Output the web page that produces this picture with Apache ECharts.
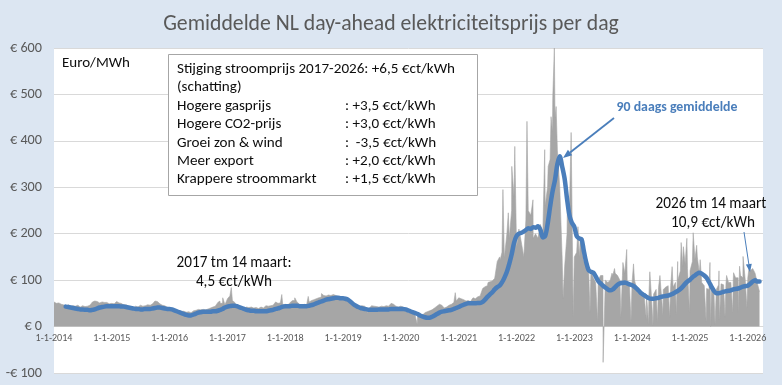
<!DOCTYPE html>
<html><head><meta charset="utf-8">
<script src="https://cdn.jsdelivr.net/npm/echarts@6/dist/echarts.min.js"></script>
<style>html,body{margin:0;padding:0;background:#dce6f2}#c{width:782px;height:385px}</style>
</head><body><div id="c"></div>
<script>
// ---------- DATA ----------
// gray daily-price envelope, two points per month (1st and 16th), EUR/MWh
const price2014 = [53,50,51,48,47,44,47,43,45,44,46,42,45,43,44,46,53,55,54,51,53,52,52,49];
const price2015 = [50,49,54,51,50,47,47,44,43,40,44,42,46,44,45,47,46,49,55,54,49,46,45,42];
const price2016 = [40,36,33,32,34,33,33,31,32,30,34,35,37,36,37,36,38,40,42,44,52,50,50,47];
const price2017 = [60,66,56,52,44,41,42,40,42,41,42,40,41,39,42,40,45,44,45,46,53,50,51,47];
const price2018 = [48,46,52,56,56,53,48,46,48,47,53,56,58,60,62,63,67,66,68,67,69,67,65,63];
const price2019 = [63,60,54,50,45,44,44,43,45,44,40,40,45,44,43,42,44,43,45,44,50,48,44,42];
const price2020 = [44,42,34,30,30,27,24,22,22,24,30,32,34,36,40,44,48,46,40,42,46,48,52,55];
const price2021 = [62,60,58,55,56,54,62,60,64,66,82,86,88,92,98,104,140,150,160,148,200,190,250,280];
const price2022 = [170,210,180,150,230,250,240,190,200,190,220,200,260,300,360,420,450,380,300,150,130,200,250,300];
const price2023 = [150,160,150,170,140,150,130,120,105,95,100,110,110,100,95,100,110,115,110,100,110,115,100,85];
const price2024 = [95,100,80,72,75,72,70,65,72,70,80,84,82,80,85,88,88,85,95,100,120,130,135,125];
const price2025 = [120,140,145,150,115,95,88,82,80,78,76,80,90,92,90,92,95,95,100,105,105,110,105,100];
const price2026 = [105,120,125,115,95,75];

// isolated spikes and dips of single days
const spikeDates = ['2014-12-03','2016-11-14','2016-12-02','2017-01-25','2017-12-10','2018-03-02','2018-05-26','2018-08-18','2018-12-12','2019-11-13','2020-12-10','2021-07-05','2021-09-20','2021-10-07','2021-11-10','2021-12-02','2021-12-21','2022-03-08','2022-04-15','2022-06-28','2022-07-20','2022-08-07','2022-08-18','2022-08-28','2022-09-08','2022-11-18','2022-12-12','2023-01-24','2023-02-08','2023-08-27','2023-09-12','2023-11-04','2023-11-28','2024-01-10','2024-04-22','2024-06-25','2024-09-10','2024-10-15','2024-11-06','2024-11-20','2024-12-12','2025-01-21','2025-02-12','2025-03-06','2025-05-07','2025-07-03','2025-08-20','2025-10-03','2025-11-10','2025-12-02','2026-01-12','2026-02-03'];
const spikeValues = [56,55,62,84,69,62,65,71,69,52,73,95,144,295,245,345,388,442,273,381,345,452,495,600,474,259,418,215,190,115,125,138,166,135,118,110,129,140,181,172,190,202,175,144,138,120,110,116,130,151,135,123];
const dipDates = ['2019-06-02','2020-04-13','2022-10-22','2022-12-25','2023-04-10','2023-05-28','2023-07-02','2023-10-22','2023-12-25','2024-03-31','2024-04-14','2024-05-12','2024-06-09','2024-07-14','2024-08-25','2024-10-06','2024-12-29','2025-04-13','2025-05-11','2025-06-08','2025-07-06','2025-08-10','2025-09-28','2025-11-02','2025-12-26'];
const dipValues = [30,5,60,21,30,10,-77,20,10,15,5,2,10,25,20,25,30,10,0,5,15,20,30,30,40];

// 90-day moving average, two points per month
const avg2014 = [null,null,null,null,null,43,42,41,40,39,38,37,37,36,36,35,36,37,39,41,42,43,44,44];
const avg2015 = [44,44,44,44,43,43,42,41,40,39,38,38,37,37,38,38,38,39,40,41,41,40,39,38];
const avg2016 = [38,37,35,33,31,29,27,25,24,24,26,28,30,31,32,32,32,32,33,33,34,36,38,41];
const avg2017 = [43,44,45,45,44,42,40,38,36,35,34,34,33,33,33,33,33,34,35,36,38,39,41,43];
const avg2018 = [44,44,44,45,45,45,44,44,44,44,45,46,48,50,52,54,56,58,59,60,61,62,62,61];
const avg2019 = [61,60,58,54,50,46,43,41,39,38,37,36,36,36,36,37,37,37,37,37,38,38,38,38];
const avg2020 = [38,38,37,35,33,31,29,27,24,22,20,19,19,21,24,27,30,32,33,34,35,36,38,40];
const avg2021 = [42,45,47,49,50,50,50,50,51,51,53,58,64,69,74,80,85,88,95,105,118,135,155,180];
const avg2022 = [195,200,202,205,208,212,210,214,213,216,208,192,195,220,258,290,316,350,367,345,318,275,240,224];
const avg2023 = [215,195,190,188,165,140,122,118,116,108,98,93,88,84,80,78,80,85,90,93,94,95,93,91];
const avg2024 = [89,86,81,76,71,68,64,61,60,60,61,62,64,65,66,67,69,71,74,77,81,86,92,97];
const avg2025 = [101,106,110,114,116,114,110,105,96,86,77,72,72,73,75,76,77,78,80,81,82,84,86,87];
const avg2026 = [88,92,97,100,97,97];

const years = [2014,2015,2016,2017,2018,2019,2020,2021,2022,2023,2024,2025,2026];
const priceByYear = [price2014,price2015,price2016,price2017,price2018,price2019,price2020,price2021,price2022,price2023,price2024,price2025,price2026];
const avgByYear = [avg2014,avg2015,avg2016,avg2017,avg2018,avg2019,avg2020,avg2021,avg2022,avg2023,avg2024,avg2025,avg2026];
const yTicks = [-100,0,100,200,300,400,500,600];
const xLabelPrefix = '1-1-';

// ---------- BUILD ----------
const DAY = 86400000, T0 = Date.UTC(2014,0,1), YEAR = 365.25;
function dayIdx(y,m,d){ return (Date.UTC(y,m-1,d)-T0)/DAY; }
function parseDay(s){ const p=s.split('-').map(Number); return dayIdx(p[0],p[1],p[2]); }
function semiMonthly(arrs){
  const out=[];
  arrs.forEach((arr,k)=>arr.forEach((v,i)=>{ if(v!==null) out.push([dayIdx(years[k],Math.floor(i/2)+1,i%2?16:1),v]); }));
  return out;
}
const grayPts = semiMonthly(priceByYear)
  .concat(spikeDates.map((d,i)=>[parseDay(d),spikeValues[i]]))
  .concat(dipDates.map((d,i)=>[parseDay(d),dipValues[i]]))
  .sort((a,b)=>a[0]-b[0]);
const avgPts = semiMonthly(avgByYear);

const FONT = "Carlito, Calibri, Lato, 'Liberation Sans', sans-serif";
const ctx = document.createElement('canvas').getContext('2d');
function fit(text, target, weight){ ctx.font=(weight||'normal')+' 100px '+FONT; return 100*target/ctx.measureText(text).width; }

const titleSize = fit('Gemiddelde NL day-ahead elektriciteitsprijs per dag',456);
const boxSize = fit('Stijging stroomprijs 2017-2026: +6,5 €ct/kWh',278);
const xLabSize = fit('1-1-2014',37);
const yLabSize = fit('€ 500',32);
const annSize = fit('2017 tm 14 maart:',115);
const blueSize = fit('90 daags gemiddelde',121,'bold');
const euroSize = fit('Euro/MWh',68);

function txt(t,x,y,size,opt){
  opt=opt||{};
  return {type:'text', z:20, style:{text:t, x:x, y:y, font:(opt.weight||'normal')+' '+size.toFixed(2)+'px '+FONT,
    fill:opt.fill||'#0d0d0d', align:opt.align||'left', textAlign:opt.align||'left', verticalAlign:'middle', textVerticalAlign:'middle'}};
}
function arrow(x1,y1,x2,y2,w,hl,hw,color){
  const a=Math.atan2(y2-y1,x2-x1), bx=x2-hl*Math.cos(a), by=y2-hl*Math.sin(a);
  const px=-Math.sin(a)*hw/2, py=Math.cos(a)*hw/2;
  return [{type:'line',z:20,shape:{x1:x1,y1:y1,x2:bx,y2:by},style:{stroke:color,lineWidth:w}},
          {type:'polygon',z:20,shape:{points:[[x2,y2],[bx+px,by+py],[bx-px,by-py]]},style:{fill:color}}];
}
const BLUE='#4a7ebb';
const boxLeft=['Stijging stroomprijs 2017-2026: +6,5 €ct/kWh','(schatting)','Hogere gasprijs','Hogere CO2-prijs','Groei zon & wind','Meer export','Krappere stroommarkt'];
const boxRight=['','',': +3,5 €ct/kWh',': +3,0 €ct/kWh',':  -3,5 €ct/kWh',': +2,0 €ct/kWh',': +1,5 €ct/kWh'];
const boxY=[69,87.5,106,124.5,143,161,179.5];
const graphics=[{type:'rect',z:19,shape:{x:168.5,y:54.5,width:309,height:141},style:{fill:'#fff',stroke:'#a6a6a6',lineWidth:1}}];
boxLeft.forEach((t,i)=>{ graphics.push(txt(t,177,boxY[i],boxSize)); if(boxRight[i]) graphics.push(txt(boxRight[i],345,boxY[i],boxSize)); });
graphics.push(txt('Euro/MWh',62,63,euroSize));
graphics.push(txt('2017 tm 14 maart:',234,263,annSize,{align:'center'}));
graphics.push(txt('4,5 €ct/kWh',234,282,annSize,{align:'center'}));
graphics.push(txt('2026 tm 14 maart',711,204,annSize,{align:'center'}));
graphics.push(txt('10,9 €ct/kWh',713,223,annSize,{align:'center'}));
graphics.push(txt('90 daags gemiddelde',677,108,blueSize,{align:'center',weight:'bold',fill:BLUE}));
arrow(614,118,563,158,1.8,9,7,BLUE).forEach(g=>graphics.push(g));
arrow(744,232,750,272,1,8,6,BLUE).forEach(g=>graphics.push(g));

const GRID_TOP=48, GRID_BOTTOM=12, H=385;
const plotH = H-GRID_TOP-GRID_BOTTOM;
const yMin=yTicks[0], yMax=yTicks[yTicks.length-1];
const zeroOffset = -plotH*(0-yMin)/(yMax-yMin);

const chart = echarts.init(document.getElementById('c'), null, {renderer:'canvas'});
chart.setOption({
  backgroundColor:'#dce6f2',
  animation:false,
  title:{text:'Gemiddelde NL day-ahead elektriciteitsprijs per dag', left:'center', top:9,
    textStyle:{fontFamily:FONT, fontSize:titleSize, fontWeight:'normal', color:'#595959'}},
  grid:{left:54,right:19,top:GRID_TOP,bottom:GRID_BOTTOM,show:true,backgroundColor:'#ffffff',borderWidth:0,containLabel:false,outerBoundsMode:'none'},
  xAxis:{type:'value', min:0, max:dayIdx(2026,4,7), interval:YEAR, offset:zeroOffset,
    axisLine:{show:true,onZero:false,lineStyle:{color:'#d9d9d9',width:1}},
    axisTick:{show:false}, splitLine:{show:false},
    axisLabel:{color:'#595959', fontFamily:FONT, fontSize:xLabSize, margin:7, hideOverlap:false,
      formatter:function(v){ const k=Math.round(v/YEAR); if(Math.abs(v-k*YEAR)>0.5) return ''; return xLabelPrefix+years[k]; }}},
  yAxis:{type:'value', min:yMin, max:yMax, interval:100,
    axisLine:{show:false}, axisTick:{show:false},
    splitLine:{show:true,lineStyle:{color:'#d9d9d9',width:1}},
    axisLabel:{color:'#595959', fontFamily:FONT, fontSize:yLabSize, margin:12,
      formatter:function(v){ return v<0 ? '-€ '+(-v) : '€ '+v; }}},
  series:[
    {type:'line', data:grayPts, symbol:'none', silent:true, z:2,
      lineStyle:{width:0.6,color:'#a6a6a6'}, areaStyle:{color:'#a6a6a6',opacity:1}},
    {type:'line', data:avgPts, symbol:'none', silent:true, z:3, smooth:0.3,
      lineStyle:{width:4.5,color:BLUE,cap:'round',join:'round'}}
  ],
  graphic:graphics
});
</script></body></html>
